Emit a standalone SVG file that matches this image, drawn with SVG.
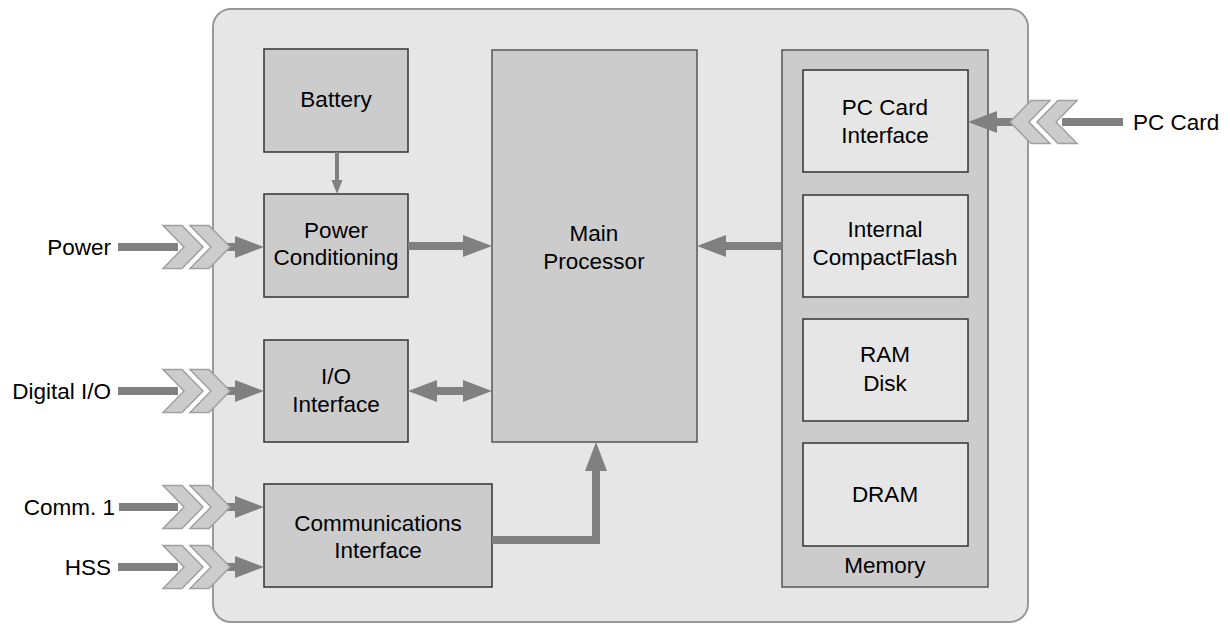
<svg xmlns="http://www.w3.org/2000/svg" width="1230" height="624" viewBox="0 0 1230 624">
  <defs>
    <style>
      text { font-family: "Liberation Sans", Arial, Helvetica, sans-serif; font-size: 22.5px; fill: #000; }
      .c { text-anchor: middle; }
      .e { text-anchor: end; }
      .box { fill: #cccccc; stroke: #333; stroke-width: 1.5; }
      .lite { fill: #e6e6e6; stroke: #333; stroke-width: 1.5; }
      .mem { fill: #cccccc; stroke: #555; stroke-width: 1.5; }
      .shaft { stroke: #808080; stroke-width: 8; fill: none; }
      .thin { stroke: #808080; stroke-width: 4; fill: none; }
      .head { fill: #808080; }
      .chev { fill: #cccccc; stroke: #a0a0a0; stroke-width: 1.5; stroke-linejoin: miter; }
    </style>
    <!-- right-pointing input chevron, centred on y=0, left edge at x=0 -->
    <polygon id="chevR" class="chev" points="0,-21.5 19,-21.5 40,0 19,21.5 0,21.5 21,0"/>
    <!-- left-pointing chevron, right edge at x=0 -->
    <polygon id="chevL" class="chev" points="0,-21.5 -19,-21.5 -40,0 -19,21.5 0,21.5 -21,0"/>
    <!-- right-pointing arrowhead, tip at x=0 -->
    <polygon id="headR" class="head" points="0,0 -29,-11 -29,11"/>
    <polygon id="headL" class="head" points="0,0 29,-11 29,11"/>
  </defs>

  <!-- enclosure -->
  <rect x="213" y="9" width="815" height="613" rx="18" ry="18" fill="#e6e6e6" stroke="#999" stroke-width="2"/>

  <g id="battery">
    <rect class="box" x="264" y="49" width="144" height="103"/>
    <text class="c" x="336" y="107">Battery</text>
  </g>

  <g id="power-conditioning">
    <rect class="box" x="264" y="194" width="144" height="103"/>
    <text class="c" x="336" y="238">Power</text>
    <text class="c" x="336" y="265">Conditioning</text>
  </g>

  <g id="io-interface">
    <rect class="box" x="264" y="340" width="144" height="102"/>
    <text class="c" x="336" y="384">I/O</text>
    <text class="c" x="336" y="412">Interface</text>
  </g>

  <g id="communications-interface">
    <rect class="box" x="264" y="484" width="228" height="103"/>
    <text class="c" x="378" y="531">Communications</text>
    <text class="c" x="378" y="558">Interface</text>
  </g>

  <g id="main-processor">
    <rect class="box" x="492" y="50" width="205" height="392" style="stroke:#555"/>
    <text class="c" x="594" y="241">Main</text>
    <text class="c" x="594" y="269">Processor</text>
  </g>

  <g id="memory">
    <rect class="mem" x="782" y="50" width="206" height="537"/>
    <text class="c" x="885" y="573">Memory</text>
  </g>

  <g id="pc-card-interface">
    <rect class="lite" x="803" y="70" width="165" height="102"/>
    <text class="c" x="885" y="115">PC Card</text>
    <text class="c" x="885" y="143">Interface</text>
  </g>

  <g id="internal-compactflash">
    <rect class="lite" x="803" y="195" width="165" height="102"/>
    <text class="c" x="885" y="237">Internal</text>
    <text class="c" x="885" y="265">CompactFlash</text>
  </g>

  <g id="ram-disk">
    <rect class="lite" x="803" y="319" width="165" height="102"/>
    <text class="c" x="885" y="362">RAM</text>
    <text class="c" x="885" y="391">Disk</text>
  </g>

  <g id="dram">
    <rect class="lite" x="803" y="443" width="165" height="103"/>
    <text class="c" x="885" y="502">DRAM</text>
  </g>

  <!-- external signal labels -->
  <g id="labels">
    <text class="e" x="111" y="255">Power</text>
    <text class="e" x="111" y="399">Digital I/O</text>
    <text class="e" x="115" y="515">Comm. 1</text>
    <text class="e" x="111" y="575">HSS</text>
    <text x="1133" y="130">PC Card</text>
  </g>

  <g id="connectors">
    <!-- battery to power conditioning -->
    <line class="thin" x1="337" y1="152" x2="337" y2="182"/>
    <polygon class="head" points="337,194 331.5,180 342.5,180"/>

    <!-- power conditioning to main processor -->
    <line class="shaft" x1="408" y1="246" x2="466" y2="246"/>
    <use href="#headR" x="492" y="246"/>

    <!-- I/O interface <-> main processor -->
    <line class="shaft" x1="430" y1="391" x2="470" y2="391"/>
    <use href="#headL" x="408" y="391"/>
    <use href="#headR" x="492" y="391"/>

    <!-- memory to main processor -->
    <line class="shaft" x1="782" y1="246" x2="722" y2="246"/>
    <use href="#headL" x="697" y="246"/>

    <!-- communications interface to main processor -->
    <polyline class="shaft" points="492,540 596,540 596,466"/>
    <polygon class="head" points="596,442 585,471 607,471"/>

    <!-- external inputs on the left -->
    <g id="in-power">
      <line class="shaft" x1="118" y1="247" x2="178" y2="247"/>
      <line class="shaft" x1="215" y1="247" x2="240" y2="247"/>
      <use href="#chevR" x="163" y="247"/>
      <use href="#chevR" x="190" y="247"/>
      <use href="#headR" x="264" y="247"/>
    </g>
    <g id="in-digital-io">
      <line class="shaft" x1="118" y1="391" x2="178" y2="391"/>
      <line class="shaft" x1="215" y1="391" x2="240" y2="391"/>
      <use href="#chevR" x="163" y="391"/>
      <use href="#chevR" x="190" y="391"/>
      <use href="#headR" x="264" y="391"/>
    </g>
    <g id="in-comm1">
      <line class="shaft" x1="119" y1="507" x2="178" y2="507"/>
      <line class="shaft" x1="215" y1="507" x2="240" y2="507"/>
      <use href="#chevR" x="163" y="507"/>
      <use href="#chevR" x="190" y="507"/>
      <use href="#headR" x="264" y="507"/>
    </g>
    <g id="in-hss">
      <line class="shaft" x1="118" y1="567" x2="178" y2="567"/>
      <line class="shaft" x1="215" y1="567" x2="240" y2="567"/>
      <use href="#chevR" x="163" y="567"/>
      <use href="#chevR" x="190" y="567"/>
      <use href="#headR" x="264" y="567"/>
    </g>

    <!-- PC card input on the right -->
    <g id="in-pc-card">
      <line class="shaft" x1="1123" y1="122" x2="1062" y2="122"/>
      <line class="shaft" x1="1025" y1="122" x2="992" y2="122"/>
      <use href="#chevL" x="1077" y="122"/>
      <use href="#chevL" x="1050" y="122"/>
      <use href="#headL" x="968" y="122"/>
    </g>
  </g>
</svg>
